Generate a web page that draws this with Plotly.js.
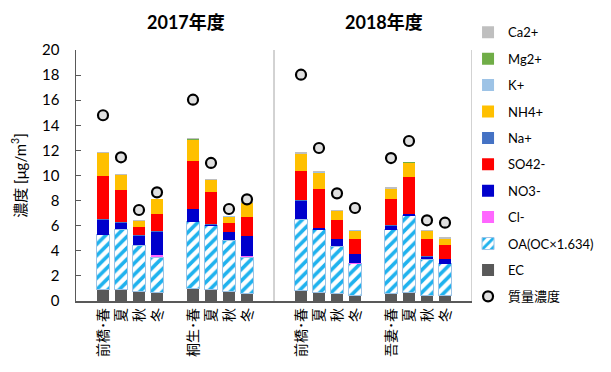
<!DOCTYPE html>
<html><head><meta charset="utf-8">
<script src="https://cdn.plot.ly/plotly-3.0.1.min.js"></script>
<style>html,body{margin:0;padding:0;background:#fff}#chart{width:611px;height:372px}</style>
</head><body><div id="chart"></div>
<script>
// ---- data ----
const yearTitles = ['2017年度', '2018年度'];
const sites = ['前橋', '桐生', '前橋', '吾妻'];
const seasons = ['春', '夏', '秋', '冬'];

const EC   = [0.93, 0.93, 0.77, 0.69, 1.01, 0.93, 0.74, 0.61, 0.80, 0.66, 0.58, 0.45, 0.63, 0.66, 0.42, 0.42];
const OA   = [4.33, 4.78, 3.69, 2.79, 5.31, 5.05, 4.12, 2.87, 5.73, 5.00, 3.80, 2.50, 5.03, 6.14, 2.90, 2.53];
const Cl   = [0.00, 0.00, 0.00, 0.20, 0.00, 0.00, 0.00, 0.08, 0.04, 0.00, 0.00, 0.06, 0.00, 0.00, 0.00, 0.02];
const NO3  = [1.19, 0.53, 0.74, 1.83, 0.98, 0.10, 0.61, 1.62, 1.42, 0.13, 0.56, 0.71, 0.34, 0.12, 0.21, 0.35];
const Na   = [0.05, 0.05, 0.04, 0.04, 0.05, 0.04, 0.03, 0.03, 0.05, 0.05, 0.04, 0.03, 0.05, 0.05, 0.03, 0.03];
const SO4  = [3.46, 2.58, 0.63, 1.37, 3.78, 2.57, 0.74, 1.46, 2.34, 3.11, 1.45, 1.17, 2.05, 2.93, 1.41, 1.11];
const NH4  = [1.81, 1.14, 0.50, 1.17, 1.70, 0.95, 0.48, 1.11, 1.33, 1.27, 0.72, 0.68, 0.82, 1.10, 0.61, 0.48];
const K    = [0.03, 0.03, 0.02, 0.02, 0.03, 0.02, 0.02, 0.02, 0.03, 0.03, 0.02, 0.02, 0.03, 0.03, 0.02, 0.02];
const Mg   = [0.01, 0.01, 0.01, 0.01, 0.01, 0.01, 0.01, 0.01, 0.01, 0.01, 0.01, 0.01, 0.01, 0.01, 0.01, 0.01];
const Ca   = [0.06, 0.04, 0.04, 0.04, 0.13, 0.04, 0.04, 0.04, 0.12, 0.06, 0.05, 0.06, 0.12, 0.05, 0.05, 0.10];
const mass = [14.80, 11.45, 7.25, 8.66, 16.04, 11.00, 7.33, 8.10, 18.03, 12.19, 8.58, 7.41, 11.39, 12.75, 6.43, 6.24];

// ---- category positions (one blank slot between sites, two between years) ----
const xs = [], labels = [];
sites.forEach((s, g) => {
  seasons.forEach((se, i) => {
    xs.push(g * 5 + i + (g >= 2 ? 1 : 0));
    labels.push(i === 0 ? s + '･' + se : se);
  });
});

const FONT = "Lato, 'Noto Sans CJK JP', sans-serif";
const bw = 0.7;

function bar(name, y, color, rank, extra) {
  const t = {
    type: 'bar', name: name, x: xs, y: y, width: bw,
    marker: {color: color, line: {width: 0}},
    legendrank: rank, legendgroup: name
  };
  return Object.assign(t, extra || {});
}

const traces = [
  bar('EC', EC, '#595959', 10),
  bar('OA(OC×1.634)', OA, '#ffffff', 9, {
    marker: {color: '#ffffff', line: {width: 1, color: '#9dc3e6'},
             pattern: {shape: '/', fgcolor: '#1fb2ee', bgcolor: '#ffffff', size: 8, solidity: 0.45}}
  }),
  bar('Cl-', Cl, '#ff66ff', 8),
  bar('NO3-', NO3, '#0000cc', 7),
  bar('Na+', Na, '#4472c4', 5),
  bar('SO42-', SO4, '#ff0000', 6),
  bar('NH4+', NH4, '#ffc000', 4),
  bar('K+', K, '#9dc3e6', 3),
  bar('Mg2+', Mg, '#70ad47', 2),
  bar('Ca2+', Ca, '#bfbfbf', 1),
  {
    type: 'scatter', mode: 'markers', name: '質量濃度', x: xs, y: mass,
    marker: {symbol: 'circle', size: 10, color: '#e0e0e0', line: {color: '#000000', width: 2.2}},
    legendrank: 11, legendgroup: '質量濃度'
  }
];

const yearCenters = [4, 15];
const annotations = yearTitles.map((t, k) => ({
  text: '<b>' + t + '</b>', xref: 'x', yref: 'paper', x: yearCenters[k] + 0.6, y: 1.11,
  xanchor: 'center', yanchor: 'middle', showarrow: false,
  font: {family: FONT, size: 18, color: '#000'}
}));

const shapes = [9.5, 20.5].map(v => ({
  type: 'line', xref: 'x', yref: 'paper', x0: v, x1: v, y0: 0, y1: 1,
  line: {color: '#a6a6a6', width: 1}
}));

const layout = {
  width: 611, height: 372,
  margin: {l: 76, r: 123, t: 50, b: 71},
  paper_bgcolor: '#fff', plot_bgcolor: '#fff',
  barmode: 'stack', bargap: 0,
  font: {family: FONT, color: '#000'},
  showlegend: true,
  legend: {
    x: 0.99, xanchor: 'left', y: 1.13, yanchor: 'top',
    traceorder: 'grouped', tracegroupgap: 6.5, maxheight: 360,
    font: {family: FONT, size: 13, color: '#000'},
    bgcolor: 'rgba(0,0,0,0)', itemwidth: 30
  },
  xaxis: {
    type: 'linear', range: [-1.5, 20.5],
    tickvals: xs, ticktext: labels, tickangle: -90,
    ticks: '', showgrid: false, zeroline: false,
    showline: true, linecolor: '#595959', linewidth: 1.5,
    tickfont: {family: FONT, size: 14, color: '#000'},
    fixedrange: true
  },
  yaxis: {
    range: [0, 20], dtick: 2, tick0: 0,
    ticks: 'inside', ticklen: 5, tickcolor: '#595959', tickwidth: 1,
    showline: true, linecolor: '#595959', linewidth: 1.5,
    showgrid: false, zeroline: false,
    tickfont: {family: FONT, size: 15, color: '#000'},
    ticklabelstandoff: 12,
    title: {text: '濃度 [μg/m<sup>3</sup>]', font: {family: FONT, size: 15, color: '#000'}, standoff: 12}
  },
  annotations: annotations,
  shapes: shapes
};

Plotly.newPlot('chart', traces, layout, {displayModeBar: false, staticPlot: true});
</script>
</body></html>
